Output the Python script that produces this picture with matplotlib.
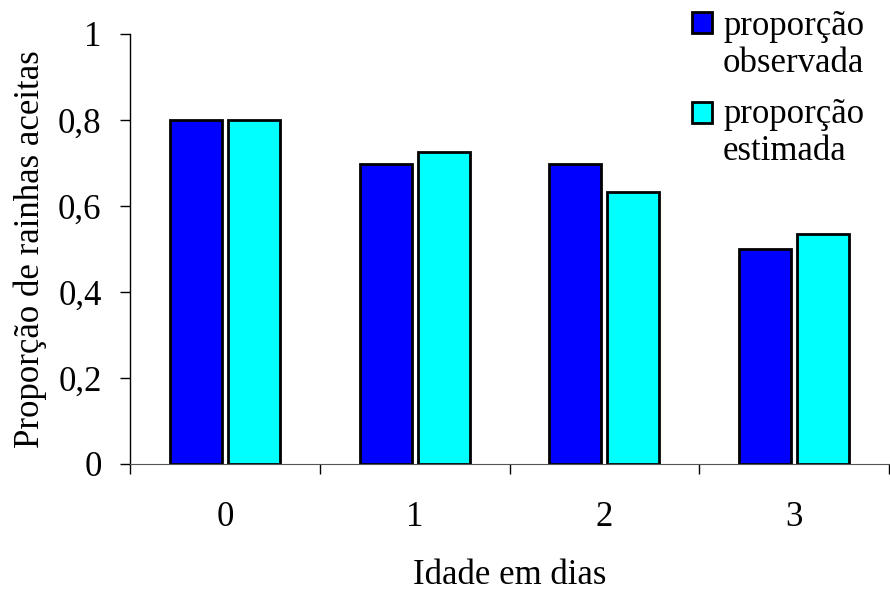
import numpy as np
import matplotlib
matplotlib.use("Agg")
import matplotlib.pyplot as plt
from matplotlib.ticker import FixedLocator
from matplotlib.patches import Rectangle

plt.rcParams['font.family'] = ['Liberation Serif', 'DejaVu Serif']
plt.rcParams['font.size'] = 25

## dados
idades = ["0", "1", "2", "3"]
observada = [0.80, 0.698, 0.698, 0.50]
estimada = [0.80, 0.726, 0.633, 0.535]
rotulos_y = ["0", "0,2", "0,4", "0,6", "0,8", "1"]
legenda = [("proporção", "observada", "#0000ff"), ("proporção", "estimada", "#00ffff")]

W, H = 890, 591
fig = plt.figure(figsize=(W/100, H/100), dpi=100)
ax = fig.add_axes([130/W, 1-464/H, 759/W, 430/H])

x = np.arange(len(idades))
larg = 0.274
desl = 0.153
ax.bar(x-desl, observada, larg, color="#0000ff", edgecolor="black", linewidth=2.0)
ax.bar(x+desl, estimada, larg, color="#00ffff", edgecolor="black", linewidth=2.0)

ax.set_xlim(-0.5, 3.5)
ax.set_ylim(0, 1)
ax.set_yticks(np.arange(0, 1.01, 0.2))
ax.set_yticklabels(rotulos_y)
ax.set_xticks(x)
ax.set_xticklabels(idades)
ax.xaxis.set_minor_locator(FixedLocator(np.arange(-0.5, 3.6, 1)))
ax.tick_params(axis="x", which="major", length=0, pad=27)
ax.tick_params(axis="x", which="minor", length=7.5, width=1, direction="out")
ax.tick_params(axis="y", length=7.5, width=1, direction="out", pad=13)

for lado in ["top", "right"]:
    ax.spines[lado].set_visible(False)
ax.spines["bottom"].set_color("#555555")
ax.spines["left"].set_linewidth(1)

ax.set_xlabel("Idade em dias")
ax.xaxis.set_label_coords(0.5, (464-559)/430)
ax.set_ylabel("Proporção de rainhas aceitas")
ax.yaxis.set_label_coords((47-130)/759, 0.5)

# legenda feita a mao (quadrado alinhado com a primeira linha)
def px(xp, yp):
    return xp/W, 1-yp/H

for i, (l1, l2, cor) in enumerate(legenda):
    y0 = 12 + i*90
    fig.add_artist(Rectangle(px(692, y0+21), 20/W, 21/H, transform=fig.transFigure,
                             facecolor=cor, edgecolor="black", linewidth=2.0))
    fig.text(*px(723, 35 + i*88), l1, va="baseline", ha="left")
    fig.text(*px(723, 72 + i*88), l2, va="baseline", ha="left")

fig.savefig("out.png", dpi=100)
